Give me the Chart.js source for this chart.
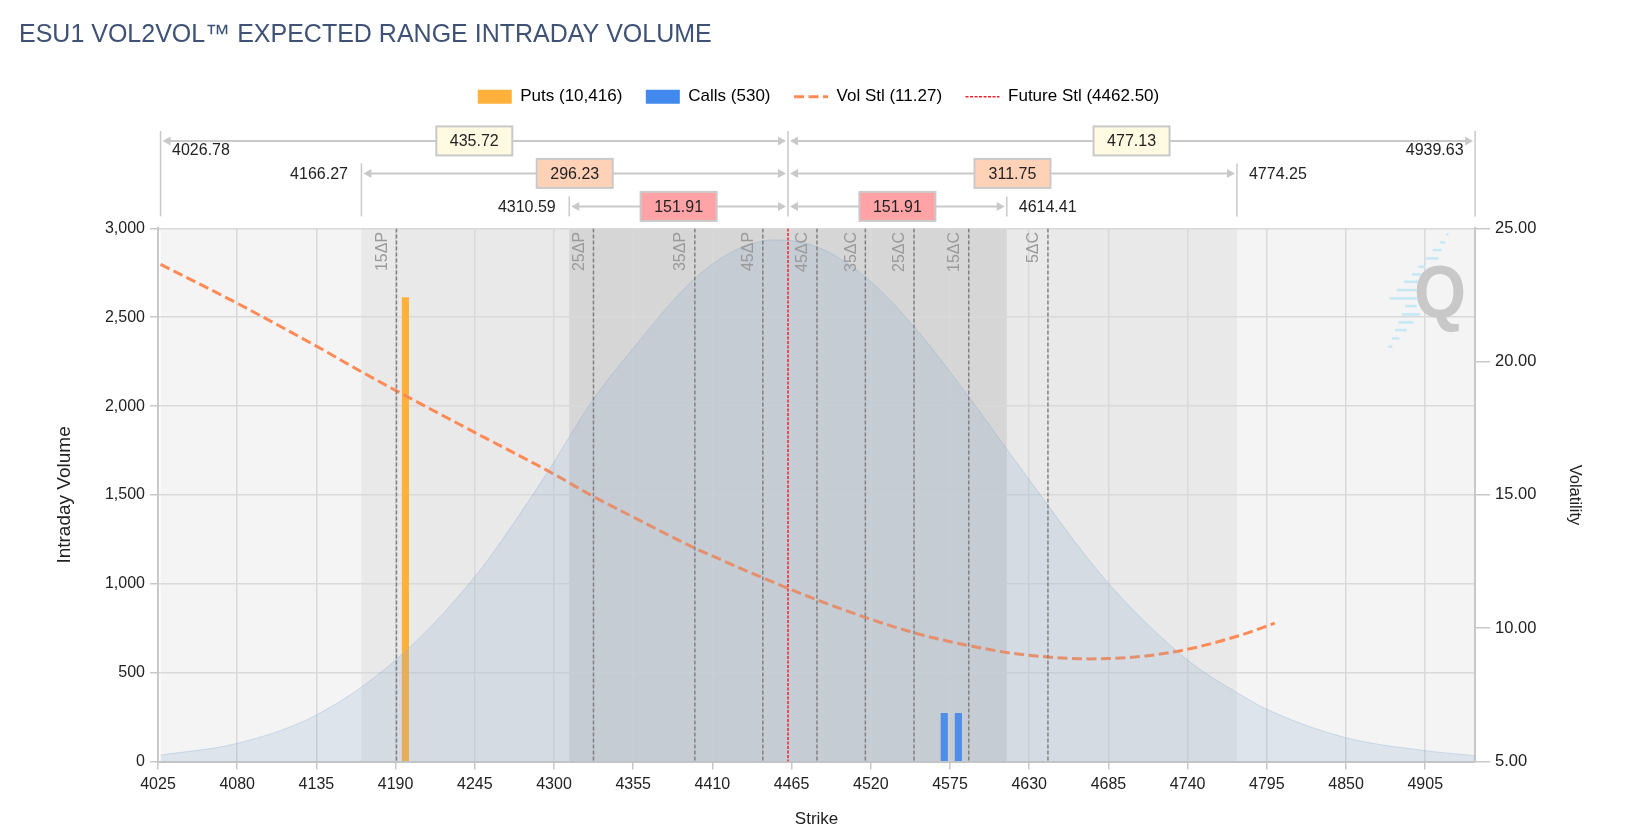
<!DOCTYPE html>
<html>
<head>
<meta charset="utf-8">
<title>ESU1 VOL2VOL Expected Range Intraday Volume</title>
<script src="https://cdn.jsdelivr.net/npm/chart.js@4"></script>
<style>
  html, body { margin: 0; padding: 0; background: #fff; }
  canvas { display: block; }
</style>
</head>
<body>
<canvas id="volChart" width="1627" height="839"></canvas>
<script>
// tick labels
const xTicks = [4025, 4080, 4135, 4190, 4245, 4300, 4355, 4410, 4465, 4520, 4575, 4630, 4685, 4740, 4795, 4850, 4905];

// volume bars
const putStrikes = [4196.8];
const putVolumes = [2610];
const callStrikes = [4571, 4580.8];
const callVolumes = [271, 271];

// vol settle curve
const volStrikes = [4026.78, 4080, 4134.4, 4166, 4190.4, 4244.8, 4299, 4327.4, 4354.3, 4398, 4410, 4444.6, 4462.5, 4482.8, 4516, 4550, 4574.6, 4588, 4614.4, 4643, 4672, 4684.5, 4711, 4740, 4775, 4795, 4800.5];
const volValues = [23.65, 22.19, 20.6, 19.63, 18.91, 17.35, 15.81, 14.94, 14.19, 13.0, 12.71, 11.9, 11.5, 11.06, 10.41, 9.83, 9.5, 9.35, 9.09, 8.92, 8.85, 8.86, 8.96, 9.21, 9.71, 10.08, 10.19];

// expected range distribution
const rangeStrikes = [4026.78, 4080, 4135, 4190, 4245, 4292, 4327, 4354, 4398, 4429, 4454, 4482, 4516, 4550, 4588, 4630, 4684, 4740, 4775, 4795, 4849, 4905, 4939.63];
const rangeVolumes = [36, 102, 262, 571, 1040, 1584, 2035, 2316, 2720, 2889, 2935, 2898, 2729, 2447, 2053, 1585, 1012, 571, 384, 294, 136, 61, 33];

// delta markers
const deltaNames = ["15ΔP", "25ΔP", "35ΔP", "45ΔP", "45ΔC", "35ΔC", "25ΔC", "15ΔC", "5ΔC"];
const deltaStrikes = [4190.6, 4327.4, 4397.8, 4445, 4482.6, 4516.2, 4550, 4588, 4643];

// expected ranges around the future settle
const futureSettle = 4462.5;
const rangeLows = [4026.78, 4166.27, 4310.59];
const rangeHighs = [4939.63, 4774.25, 4614.41];
const lowWidths = ["435.72", "296.23", "151.91"];
const highWidths = ["477.13", "311.75", "151.91"];
const rangeColors = ["#FFFBE3", "#FFD2B8", "#FFA3A6"];
const bandColors = ["#f4f4f4", "#e9e9e9", "#d6d6d6"];

const legendTexts = ["Puts (10,416)", "Calls (530)", "Vol Stl (11.27)", "Future Stl (4462.50)"];

const FONT = "'Liberation Sans', Arial, sans-serif";
const ORANGE = "#FFB13B";
const BLUE = "#4289EE";
const VOL_COLOR = "#FF8A56";
const RED = "#F5202C";

Chart.defaults.font.family = FONT;
Chart.defaults.font.size = 16;
Chart.defaults.color = "#222";

function zip(xs, ys) {
  return xs.map((x, i) => ({ x: x, y: ys[i] }));
}

// two point segments separated by a gap
function deltaSegments() {
  const pts = [];
  deltaStrikes.forEach((x) => {
    pts.push({ x: x, y: 3000 }, { x: x, y: 0 }, { x: x, y: null });
  });
  return pts;
}

// shaded expected range bands, under the grid
const bandsPlugin = {
  id: "bands",
  beforeDraw(chart) {
    const { ctx, chartArea, scales } = chart;
    ctx.save();
    rangeLows.forEach((low, i) => {
      const x0 = scales.x.getPixelForValue(low);
      const x1 = scales.x.getPixelForValue(rangeHighs[i]);
      ctx.fillStyle = bandColors[i];
      ctx.fillRect(x0, chartArea.top, x1 - x0, chartArea.bottom - chartArea.top);
    });
    ctx.restore();
  },
  // watermark
  beforeDatasetsDraw(chart) {
    const { ctx, chartArea } = chart;
    const ox = chartArea.right - 95;
    const oy = chartArea.top;
    const dashes = [[18, 198, 205], [42, 180, 195], [65, 158, 185], [90, 138, 175], [115, 115, 135], [138, 95, 125], [160, 72, 115], [185, 50, 110], [210, 28, 110], [233, 75, 110], [258, 65, 120], [282, 55, 100], [305, 45, 80], [330, 35, 58], [355, 25, 37]];
    ctx.save();
    ctx.strokeStyle = "#c5e8f5";
    ctx.lineWidth = 2.5;
    dashes.forEach((d) => {
      ctx.beginPath();
      ctx.moveTo(ox + d[1] / 3, oy + d[0] / 3);
      ctx.lineTo(ox + d[2] / 3, oy + d[0] / 3);
      ctx.stroke();
    });
    ctx.translate(chartArea.right - 61, chartArea.top + 68);
    ctx.scale(1, 1.1);
    ctx.fillStyle = "#c8c8c8";
    ctx.font = "bold 67px " + FONT;
    ctx.fillText("Q", 0, 0);
    ctx.restore();
  },
  // delta names beside their lines
  afterDatasetsDraw(chart) {
    const { ctx, chartArea, scales } = chart;
    ctx.save();
    ctx.fillStyle = "#9a9a9a";
    ctx.font = "16px " + FONT;
    ctx.textAlign = "right";
    ctx.textBaseline = "middle";
    deltaStrikes.forEach((s, i) => {
      ctx.save();
      ctx.translate(scales.x.getPixelForValue(s) - 14, chartArea.top + 3.5);
      ctx.rotate(-Math.PI / 2);
      ctx.fillText(deltaNames[i], 0, 0);
      ctx.restore();
    });
    ctx.restore();
  },
};

// range brackets above the plot
const bracketsPlugin = {
  id: "brackets",
  afterDraw(chart) {
    const { ctx, chartArea, scales } = chart;
    const grey = "#c9c9c9";
    const rowY = [chartArea.top - 87.5, chartArea.top - 55, chartArea.top - 22];
    const bottom = chartArea.top - 12;
    const mid = scales.x.getPixelForValue(futureSettle);

    function vline(x, top) {
      ctx.beginPath();
      ctx.moveTo(x, top);
      ctx.lineTo(x, bottom);
      ctx.stroke();
    }
    function arrow(tip, y, dir) {
      ctx.beginPath();
      ctx.moveTo(tip, y);
      ctx.lineTo(tip + dir * 8, y - 4.5);
      ctx.lineTo(tip + dir * 8, y + 4.5);
      ctx.closePath();
      ctx.fill();
    }
    function box(cx, y, text, fill) {
      ctx.fillStyle = fill;
      ctx.strokeStyle = grey;
      ctx.lineWidth = 2;
      ctx.fillRect(cx - 38, y - 14.5, 76, 29);
      ctx.strokeRect(cx - 38, y - 14.5, 76, 29);
      ctx.fillStyle = "#222";
      ctx.textAlign = "center";
      ctx.fillText(text, cx, y + 1);
    }
    function label(text, x, y, align) {
      ctx.fillStyle = "#222";
      ctx.textAlign = align;
      ctx.fillText(text, x, y);
    }

    ctx.save();
    ctx.font = "16px " + FONT;
    ctx.textBaseline = "middle";
    ctx.strokeStyle = grey;
    ctx.lineWidth = 1.5;
    vline(mid, rowY[0] - 10);

    rowY.forEach((y, i) => {
      const lo = scales.x.getPixelForValue(rangeLows[i]);
      const hi = scales.x.getPixelForValue(rangeHighs[i]);
      ctx.strokeStyle = grey;
      ctx.fillStyle = grey;
      ctx.lineWidth = 1.5;
      vline(lo, y - 10);
      vline(hi, y - 10);
      ctx.lineWidth = 2;
      ctx.beginPath();
      ctx.moveTo(lo + 6, y);
      ctx.lineTo(mid - 6, y);
      ctx.moveTo(mid + 6, y);
      ctx.lineTo(hi - 6, y);
      ctx.stroke();
      arrow(lo + 2, y, 1);
      arrow(mid - 2, y, -1);
      arrow(mid + 2, y, 1);
      arrow(hi - 2, y, -1);
      box((lo + mid) / 2, y, lowWidths[i], rangeColors[i]);
      box((mid + hi) / 2, y, highWidths[i], rangeColors[i]);
      if (i === 0) {
        label(rangeLows[i].toFixed(2), lo + 11.5, y + 10, "left");
        label(rangeHighs[i].toFixed(2), hi - 11.5, y + 10, "right");
      } else {
        label(rangeLows[i].toFixed(2), lo - 13.5, y + 1, "right");
        label(rangeHighs[i].toFixed(2), hi + 12, y + 1, "left");
      }
    });
    ctx.restore();
  },
};

// empty box that keeps the room for the brackets
const spacerPlugin = {
  id: "spacer",
  afterInit(chart) {
    Chart.layouts.addBox(chart, {
      position: "top",
      weight: 100,
      fullSize: true,
      options: {},
      isHorizontal() { return true; },
      update(w) {
        this.width = w;
        this.height = 113.1;
      },
      draw() {},
    });
  },
};

new Chart(document.getElementById("volChart"), {
  type: "bar",
  data: {
    datasets: [
      { type: "line", label: "Delta", data: deltaSegments(), borderColor: "#808080", borderWidth: 1.5, borderDash: [4, 2], pointRadius: 0, spanGaps: false, order: 0, yAxisID: "y" },
      { type: "line", label: "Future Stl", data: zip([futureSettle, futureSettle], [3000, 0]), borderColor: RED, borderWidth: 1.5, borderDash: [3, 1.5], pointRadius: 0, order: 1, yAxisID: "y" },
      { type: "line", label: "Expected Range", data: zip(rangeStrikes, rangeVolumes), borderColor: "rgba(129,164,204,0.3)", borderWidth: 1, backgroundColor: "rgba(129,164,204,0.2)", fill: "origin", pointRadius: 0, cubicInterpolationMode: "monotone", order: 2, yAxisID: "y" },
      { type: "line", label: "Vol Stl", data: zip(volStrikes, volValues), borderColor: VOL_COLOR, borderWidth: 3, borderDash: [10, 4.5], pointRadius: 0, cubicInterpolationMode: "monotone", order: 3, yAxisID: "y1" },
      { label: "Puts", data: zip(putStrikes, putVolumes), backgroundColor: ORANGE, barThickness: 6.5, grouped: false, order: 4, yAxisID: "y" },
      { label: "Calls", data: zip(callStrikes, callVolumes), backgroundColor: BLUE, barThickness: 6.5, grouped: false, order: 4, yAxisID: "y" },
    ],
  },
  options: {
    responsive: false,
    animation: false,
    layout: { padding: { left: 19, right: 9, top: 0, bottom: 0 } },
    plugins: {
      tooltip: { enabled: false },
      title: {
        display: true,
        text: "ESU1 VOL2VOL™ EXPECTED RANGE INTRADAY VOLUME",
        align: "start",
        color: "#3F5275",
        font: { size: 25, weight: "normal" },
        padding: { top: 20, bottom: 14.8 },
      },
      legend: {
        position: "top",
        labels: {
          usePointStyle: true,
          pointStyleWidth: 34,
          boxHeight: 14,
          padding: 23.5,
          color: "#222",
          font: { size: 17 },
          generateLabels() {
            return [
              { text: legendTexts[0], fillStyle: ORANGE, strokeStyle: ORANGE, lineWidth: 0, pointStyle: "rect" },
              { text: legendTexts[1], fillStyle: BLUE, strokeStyle: BLUE, lineWidth: 0, pointStyle: "rect" },
              { text: legendTexts[2], strokeStyle: VOL_COLOR, lineWidth: 3, lineDash: [10, 4.5], pointStyle: "line" },
              { text: legendTexts[3], strokeStyle: RED, lineWidth: 1.5, lineDash: [3, 1.5], pointStyle: "line" },
            ];
          },
        },
      },
    },
    scales: {
      x: {
        type: "linear",
        offset: false,
        min: 4025,
        max: 4939.63,
        afterBuildTicks(scale) {
          scale.ticks = xTicks.map((v) => ({ value: v }));
        },
        afterFit(scale) {
          scale.height = 77.5;
        },
        grid: { color: "#d9d9d9", lineWidth: 1.5, tickLength: 8, tickColor: "#c8c8c8", offset: false },
        border: { color: "#c4c4c4", width: 2 },
        ticks: { autoSkip: false, maxRotation: 0, padding: 5, callback: (v) => String(v) },
        title: { display: true, text: "Strike", font: { size: 17 }, padding: { bottom: 9 } },
      },
      y: {
        position: "left",
        min: 0,
        max: 3000,
        afterFit(scale) {
          scale.width = 139;
        },
        grid: { color: "#d9d9d9", lineWidth: 1.5, tickLength: 8, tickColor: "#c8c8c8" },
        border: { color: "#c8c8c8", width: 2 },
        ticks: { stepSize: 500, padding: 5 },
        title: { display: true, text: "Intraday Volume", font: { size: 19 }, padding: { top: 34 } },
      },
      y1: {
        position: "right",
        min: 5,
        max: 25,
        afterFit(scale) {
          scale.width = 142.9;
        },
        grid: { drawOnChartArea: false, tickLength: 15, tickColor: "#c8c8c8", lineWidth: 1.5 },
        border: { color: "#c8c8c8", width: 2 },
        ticks: { stepSize: 5, padding: 5, font: { size: 16.5 }, callback: (v) => v.toFixed(2) },
        title: { display: true, text: "Volatility", font: { size: 16.5 }, padding: { top: 34 } },
      },
    },
  },
  plugins: [bandsPlugin, bracketsPlugin, spacerPlugin],
});
</script>
</body>
</html>
